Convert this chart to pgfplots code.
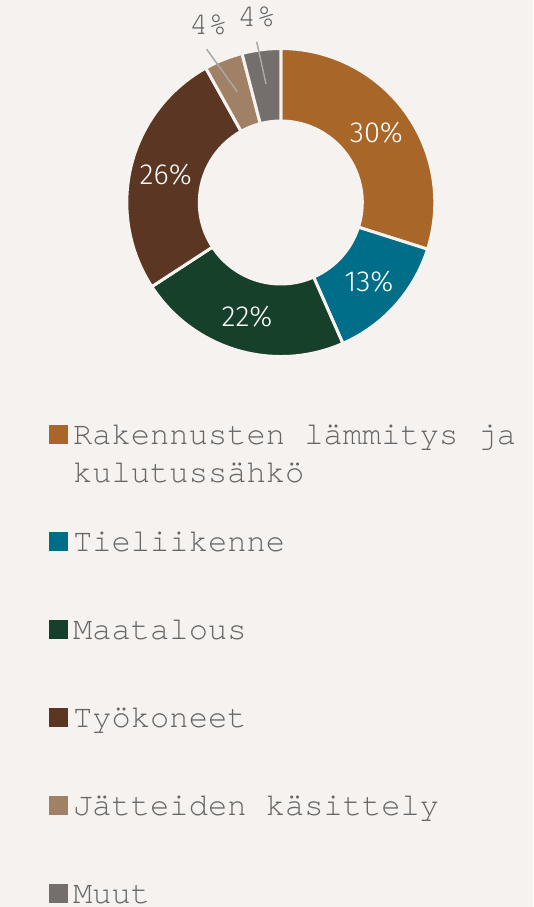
\documentclass[border=0pt]{standalone}
\usepackage{pgfplots}
\pgfplotsset{compat=1.18}
\usepackage{pgfplotstable}
\usepackage{fontspec}
\newfontfamily\mono{TeX Gyre Cursor}
\newfontfamily\labfont{Fira Sans Light}
\newcommand\legfont{\mono\fontsize{32.1}{38}\selectfont}
\newcommand\pctfont{\labfont\fontsize{29}{34}\selectfont}
% fixed depth for a legend line
\newcommand\ld[1]{\rule[-#1]{0pt}{#1}}

\definecolor{bg}{HTML}{F5F2EF}
\definecolor{c1}{HTML}{A86629}
\definecolor{c2}{HTML}{006E89}
\definecolor{c3}{HTML}{17402A}
\definecolor{c4}{HTML}{5A3623}
\definecolor{c5}{HTML}{A08166}
\definecolor{c6}{HTML}{746E6D}
\definecolor{linec}{HTML}{A8A8A8}
\definecolor{lgray}{HTML}{666666}

% share of emissions, clockwise from 12 o'clock
\pgfplotstableread[col sep=comma]{
name,value,pct,colour
Rakennukset,29.9,30,c1
Tieliikenne,13.5,13,c2
Maatalous,22.4,22,c3
Tyokoneet,26.1,26,c4
Jatteet,4.05,4,c5
Muut,4.05,4,c6
}\piedata

% start / end / middle angle of every slice
\gdef\runangle{90}
\pgfplotsforeachungrouped \i in {0,...,5}{%
  \pgfplotstablegetelem{\i}{value}\of\piedata
  \pgfmathsetmacro\aend{\runangle-3.6*\pgfplotsretval}%
  \pgfmathsetmacro\amid{(\runangle+\aend)/2}%
  \expandafter\xdef\csname sA\i\endcsname{\runangle}%
  \expandafter\xdef\csname eA\i\endcsname{\aend}%
  \expandafter\xdef\csname mA\i\endcsname{\amid}%
  \pgfplotstablegetelem{\i}{colour}\of\piedata
  \expandafter\xdef\csname cl\i\endcsname{\pgfplotsretval}%
  \pgfplotstablegetelem{\i}{pct}\of\piedata
  \expandafter\xdef\csname pc\i\endcsname{\pgfplotsretval}%
  \xdef\runangle{\aend}%
}

\begin{document}
\begin{tikzpicture}
\useasboundingbox[fill=bg] (0,0) rectangle (533pt,907pt);
\begin{axis}[
    at={(0pt,0pt)}, anchor=south west,
    scale only axis, x=1pt, y=1pt, disabledatascaling,
    xmin=-280.8, xmax=252.2, ymin=-704.5, ymax=202.5,
    hide axis, clip=false,
    legend image code/.code={\fill[#1, draw=none] (0pt,0pt) rectangle (19pt,19pt);},
    legend style={at={(axis cs:-231.8,-216.5)}, anchor=north west,
        draw=none, fill=none, inner sep=0pt, text=lgray, font=\legfont,
        column sep=5pt, row sep=53pt, cells={anchor=base west},
        nodes={inner sep=0pt, text height=25pt, text depth=}},
]

% slices
\pgfplotsinvokeforeach{0,...,5}{%
  \edef\tmp{\noexpand\fill[fill=\csname cl#1\endcsname, draw=bg, line width=3pt]
    ({154*cos(\csname sA#1\endcsname)},{154*sin(\csname sA#1\endcsname)})
    arc[start angle=\csname sA#1\endcsname, end angle=\csname eA#1\endcsname, radius=154pt]
    -- ({81.5*cos(\csname eA#1\endcsname)},{81.5*sin(\csname eA#1\endcsname)})
    arc[start angle=\csname eA#1\endcsname, end angle=\csname sA#1\endcsname, radius=81.5pt]
    -- cycle;}\tmp
}

% labels on the big slices
\pgfplotsinvokeforeach{0,...,3}{%
  \edef\tmp{\noexpand\node[anchor=base, text=white, font=\noexpand\pctfont, yshift=-10pt]
    at ({118.5*cos(\csname mA#1\endcsname)},{118.5*sin(\csname mA#1\endcsname)})
    {\csname pc#1\endcsname\noexpand\%};}\tmp
}

% small slices get labels outside
\draw[linec, line width=1.5pt] (-74.1,153.2) -- (-43.5,110.8);
\draw[linec, line width=1.5pt] (-24.1,160.8) -- (-14.8,118.5);
\node[anchor=base, text=lgray, font=\legfont] at (-72.5,168.2) {4\%};
\node[anchor=base, text=lgray, font=\legfont] at (-24.1,175.8) {4\%};

\addlegendimage{fill=c1}
\addlegendentry{\ld{29pt}Rakennusten lämmitys ja\makebox[0pt][l]{\raisebox{-38pt}[0pt][0pt]{\hspace{-23\fontcharwd\font`R}kulutussähkö}}}
\addlegendimage{fill=c2}
\addlegendentry{\ld{10pt}Tieliikenne}
\addlegendimage{fill=c3}
\addlegendentry{\ld{10pt}Maatalous}
\addlegendimage{fill=c4}
\addlegendentry{\ld{10pt}Työkoneet}
\addlegendimage{fill=c5}
\addlegendentry{\ld{10pt}Jätteiden käsittely}
\addlegendimage{fill=c6}
\addlegendentry{\ld{10pt}Muut}
\end{axis}
\end{tikzpicture}
\end{document}
